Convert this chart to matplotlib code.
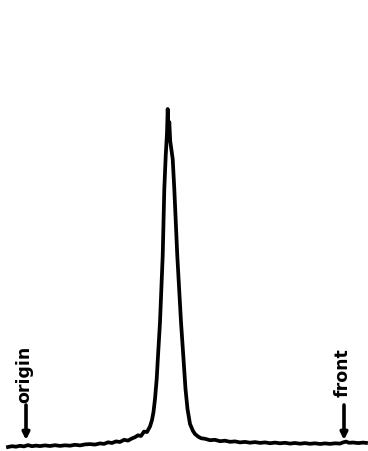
import matplotlib

matplotlib.use("Agg")
import matplotlib.pyplot as plt

# radioscan trace: position along the strip vs. detector response
position = [
    8, 12, 16, 20, 24, 28, 32, 36, 40, 45, 50, 55, 60, 65, 70, 75, 80, 85,
    90, 95, 100, 104, 108, 112, 116, 120, 124, 128, 132, 135, 138, 141, 144,
    147, 150, 152, 153.5, 155, 156.7, 158, 160, 162.7, 164.3, 165.7, 167,
    167.7, 168.5, 169.3, 170.2, 172.7, 174.3, 177.3, 181, 183.3, 185.5, 187.5,
    190, 193, 195, 198, 201, 205, 210, 215, 220, 225, 230, 235, 240, 245,
    250, 255, 260, 265, 270, 275, 280, 285, 290, 295, 300, 305, 310, 315,
    320, 325, 330, 335, 340, 343, 346, 349, 353, 358, 363, 366,
]
response = [
    4.0, 4.8, 4.3, 5.2, 4.6, 5.9, 4.8, 5.4, 4.9, 5.6, 5.0, 5.8, 5.1, 5.7,
    5.3, 6.2, 5.6, 6.6, 6.9, 6.4, 7.6, 7.1, 8.7, 8.0, 9.6, 9.0, 11.2, 10.4,
    12.6, 13.8, 15.7, 15.0, 19.4, 19.0, 24.5, 31.0, 39.0, 52.0, 72.0, 95.0,
    129.0, 195.0, 262.0, 295.0, 318.0, 342.0, 318.0, 329.0, 310.0, 292.0,
    262.0, 195.0, 129.0, 95.0, 62.0, 42.0, 27.0, 20.0, 17.0, 14.5, 12.8,
    12.2, 10.8, 11.2, 9.8, 10.3, 9.2, 9.6, 8.6, 9.1, 8.3, 8.9, 8.1, 8.6,
    7.8, 8.4, 7.7, 8.2, 7.4, 8.0, 7.3, 7.9, 7.2, 7.7, 7.0, 7.6, 7.1, 7.7,
    7.4, 8.6, 9.4, 8.2, 8.5, 7.9, 8.4, 8.1,
]

labels = ["origin", "front"]
label_pos = [26, 344]
label_base = [49, 55]

fig = plt.figure(figsize=(3.68, 4.52), dpi=100)
ax = fig.add_axes([0, 0, 1, 1])
ax.plot(position, response, color="black", linewidth=2.7, solid_joinstyle="round")

for name, xpos, ybase in zip(labels, label_pos, label_base):
    ax.annotate(
        "",
        xy=(xpos, 11),
        xytext=(xpos, 46),
        arrowprops=dict(arrowstyle="-|>", color="black", lw=2.6, mutation_scale=10,
                        shrinkA=0, shrinkB=0),
    )
    ax.text(xpos - 1.5, ybase, name, rotation=90, ha="center", va="bottom",
            fontsize=12.5, fontweight="heavy", color="black")

ax.set_xlim(0, 368)
ax.set_ylim(0, 452)
ax.axis("off")

fig.savefig("out.png", dpi=100)
plt.close(fig)
